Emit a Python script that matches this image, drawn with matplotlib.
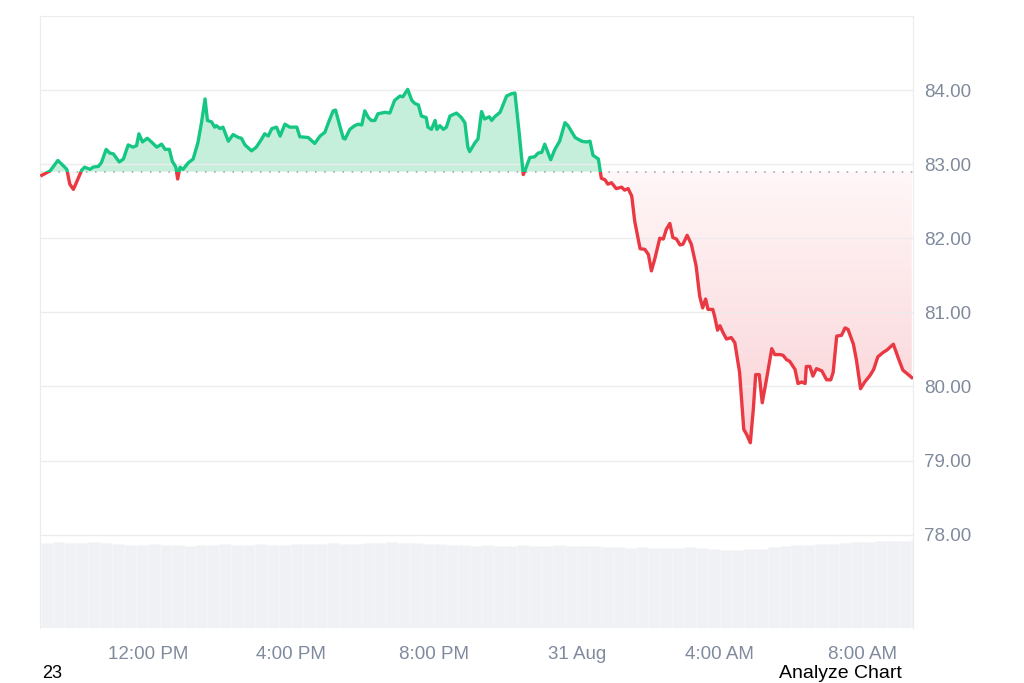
import numpy as np
import pandas as pd
import matplotlib
matplotlib.use("Agg")
import matplotlib.pyplot as plt
import matplotlib.dates as mdates
import matplotlib.transforms as mtransforms
from matplotlib.patches import Rectangle, PathPatch
from matplotlib.path import Path
from matplotlib.colors import LinearSegmentedColormap

plt.rcParams['font.family'] = ['Liberation Sans', 'DejaVu Sans']

# --- data ---
start = pd.Timestamp("2023-08-30 09:00")
base_price = 82.9   # dotted reference line (opening price)

minutes = [2, 16, 29, 38, 44, 49, 55, 60, 69, 74, 83, 88, 97, 102, 110, 116, 122, 132, 139, 147,
           155, 161, 165, 171, 179, 186, 195, 203, 209, 216, 221, 227, 230, 234, 239, 248, 256, 264,
           270, 276, 280, 287, 292, 295, 301, 306, 315, 323, 332, 337, 343, 354, 362, 371, 376, 382,
           388, 396, 402, 410, 418, 430, 435, 449, 460, 469, 477, 483, 491, 495, 502, 508, 511, 519,
           527, 533, 539, 544, 550, 555, 561, 566, 578, 586, 594, 603, 608, 616, 623, 628, 634, 639,
           647, 650, 656, 662, 665, 670, 676, 681, 687, 698, 706, 712, 717, 720, 729, 734, 740, 745,
           753, 757, 762, 771, 782, 790, 796, 803, 810, 815, 821, 829, 835, 841, 846, 856, 863, 871,
           880, 885, 897, 908, 916, 922, 927, 936, 941, 947, 952, 958, 966, 975, 980, 986, 992, 997,
           1006, 1014, 1020, 1025, 1031, 1039, 1045, 1050, 1056, 1061, 1067, 1073, 1078, 1085, 1092,
           1100, 1106, 1111, 1116, 1120, 1128, 1131, 1136, 1140, 1145, 1151, 1159, 1165, 1173, 1180,
           1185, 1191, 1196, 1200, 1206, 1211, 1218, 1227, 1232, 1241, 1246, 1252, 1257, 1266, 1271,
           1277, 1283, 1285, 1291, 1296, 1302, 1311, 1319, 1326, 1330, 1336, 1344, 1350, 1355, 1364,
           1369, 1376, 1383, 1392, 1398, 1405, 1414, 1420, 1431, 1439, 1447, 1456, 1462]

prices = [82.85, 82.91, 83.05, 82.98, 82.93, 82.73, 82.66, 82.75, 82.92, 82.96, 82.93, 82.96, 82.97,
          83.02, 83.20, 83.15, 83.14, 83.03, 83.07, 83.26, 83.23, 83.25, 83.41, 83.30, 83.35, 83.30,
          83.23, 83.27, 83.20, 83.20, 83.04, 82.96, 82.80, 82.96, 82.93, 83.02, 83.07, 83.29, 83.56,
          83.88, 83.59, 83.57, 83.50, 83.52, 83.48, 83.50, 83.31, 83.40, 83.36, 83.35, 83.26, 83.18,
          83.23, 83.34, 83.41, 83.38, 83.48, 83.50, 83.38, 83.54, 83.50, 83.50, 83.37, 83.36, 83.28,
          83.38, 83.43, 83.56, 83.72, 83.73, 83.52, 83.35, 83.34, 83.47, 83.52, 83.54, 83.53, 83.72,
          83.63, 83.59, 83.59, 83.68, 83.70, 83.69, 83.86, 83.92, 83.91, 84.01, 83.86, 83.82, 83.80,
          83.65, 83.63, 83.50, 83.47, 83.59, 83.47, 83.52, 83.47, 83.50, 83.65, 83.69, 83.63, 83.56,
          83.23, 83.17, 83.29, 83.34, 83.71, 83.61, 83.64, 83.59, 83.64, 83.70, 83.92, 83.95, 83.96,
          83.43, 82.86, 82.96, 83.09, 83.10, 83.15, 83.16, 83.27, 83.06, 83.20, 83.31, 83.56, 83.52,
          83.36, 83.31, 83.30, 83.31, 83.12, 83.07, 82.81, 82.79, 82.73, 82.75, 82.67, 82.69, 82.65,
          82.67, 82.57, 82.23, 81.86, 81.85, 81.78, 81.56, 81.73, 82.00, 81.99, 82.12, 82.20, 82.01,
          81.99, 81.91, 81.92, 82.04, 81.92, 81.63, 81.22, 81.06, 81.18, 81.04, 81.04, 80.95, 80.76,
          80.82, 80.73, 80.64, 80.66, 80.59, 80.19, 79.42, 79.35, 79.24, 79.69, 80.16, 80.16, 79.78,
          80.09, 80.51, 80.43, 80.43, 80.42, 80.36, 80.34, 80.23, 80.04, 80.06, 80.04, 80.27, 80.27,
          80.14, 80.24, 80.21, 80.09, 80.09, 80.19, 80.68, 80.69, 80.79, 80.77, 80.57, 80.36, 79.97,
          80.06, 80.15, 80.23, 80.40, 80.46, 80.49, 80.57, 80.39, 80.22, 80.16, 80.12]

# volume, one bar per 20 minutes
vol_minutes = list(range(0, 1480, 20))
volumes = [83, 84, 83, 83, 84, 83,
           82, 81, 81, 82, 81, 81, 80, 81, 81, 82, 81, 81, 82, 81, 81, 82,
           82, 82, 83, 82, 82, 83, 83, 84, 83,
           83, 82, 82, 81,
           81, 80, 81, 80, 80, 81, 80, 80, 81, 80, 80, 80,
           79, 79, 78, 79, 78, 78, 78, 79, 78,
           77, 76, 76, 77, 77,
           79, 80, 81, 81, 82, 82,
           83, 84, 84, 85, 85, 85, 86]

y_ticks = [78, 79, 80, 81, 82, 83, 84]

green = '#16c784'
red = '#ea3943'
grey_txt = '#808a9d'
grid_c = '#ececec'

t = start + pd.to_timedelta(minutes, unit='m')
tn = mdates.date2num(t.to_pydatetime())
p = np.array(prices)
vt = mdates.date2num((start + pd.to_timedelta(vol_minutes, unit='m')).to_pydatetime())

fig = plt.figure(figsize=(10.24, 6.83), dpi=100)
ax = fig.add_axes([40 / 1024, 55 / 683, 873 / 1024, 612 / 683])
vax = ax.twinx()
ax.set_zorder(vax.get_zorder() + 1)
ax.patch.set_visible(False)

# volume bars
vax.bar(vt, volumes, width=20 / 1440, align='edge', color='#eff1f4',
        edgecolor='#f6f7f9', linewidth=0.4)
vax.set_ylim(0, 600)
vax.set_yticks([])
for s in vax.spines.values():
    s.set_visible(False)

x0 = mdates.date2num(start - pd.Timedelta(minutes=1))
x1 = mdates.date2num(start + pd.Timedelta(minutes=1464))

# fills
ax.fill_between(tn, p, base_price, where=p >= base_price, interpolate=True,
                facecolor='#c6efdb', edgecolor='none', zorder=1)
red_poly = ax.fill_between(tn, p, base_price, where=p < base_price, interpolate=True,
                           facecolor='none', edgecolor='none', zorder=1)
clip = PathPatch(Path.make_compound_path(*red_poly.get_paths()), transform=ax.transData,
                 facecolor='none', edgecolor='none')
ax.add_patch(clip)
cmap = LinearSegmentedColormap.from_list('rg', ['#fff7f8', '#fad2d6'])
grad = np.linspace(1, 0, 256).reshape(-1, 1)
im = ax.imshow(grad, extent=[x0, x1, p.min(), base_price], aspect='auto', cmap=cmap,
               origin='lower', zorder=1, interpolation='bilinear')
im.set_clip_path(clip)
ax.set_xlim(x0, x1)
ax.set_ylim(76.74, 85.0)

# baseline
ax.axhline(base_price, color='#9aa0a8', lw=1.1, ls=(0, (1, 5)), zorder=2)

# price line, green above baseline, red below
blend = mtransforms.blended_transform_factory(ax.transAxes, ax.transData)
up = Rectangle((0, base_price), 1, 20, transform=blend, facecolor='none', edgecolor='none')
dn = Rectangle((0, base_price - 20), 1, 20, transform=blend, facecolor='none', edgecolor='none')
ax.add_patch(up)
ax.add_patch(dn)
lg, = ax.plot(tn, p, color=green, lw=2.4, solid_joinstyle='round', zorder=3)
lr, = ax.plot(tn, p, color=red, lw=2.4, solid_joinstyle='round', zorder=3)
lg.set_clip_path(up)
lr.set_clip_path(dn)

# axes styling
ax.yaxis.tick_right()
ax.set_yticks(y_ticks)
ax.set_yticklabels([f"{v:.2f}" for v in y_ticks])
ax.grid(axis='y', color=grid_c, lw=1)
ax.tick_params(axis='y', length=0, pad=8, labelsize=13.5, labelcolor=grey_txt)
ax.tick_params(axis='x', length=0, pad=13, labelsize=13.5, labelcolor=grey_txt)


def fmt(x, pos=None):
    d = mdates.num2date(x)
    if d.hour == 0:
        return d.strftime("%d %b").lstrip('0')
    return d.strftime("%I:%M %p").lstrip('0')


ax.xaxis.set_major_locator(mdates.HourLocator(byhour=[0, 4, 8, 12, 16, 20]))
ax.xaxis.set_major_formatter(plt.FuncFormatter(fmt))
for side in ['top', 'left', 'right']:
    ax.spines[side].set_color(grid_c)
ax.spines['bottom'].set_visible(False)

fig.text(42 / 1024, 1 / 683, "23", fontsize=13, color='black', va='bottom', ha='left')
fig.text(902 / 1024, 5 / 683, "Analyze Chart", fontsize=14, color='black', va='baseline', ha='right')

fig.savefig("out.png", dpi=100, facecolor='white')
